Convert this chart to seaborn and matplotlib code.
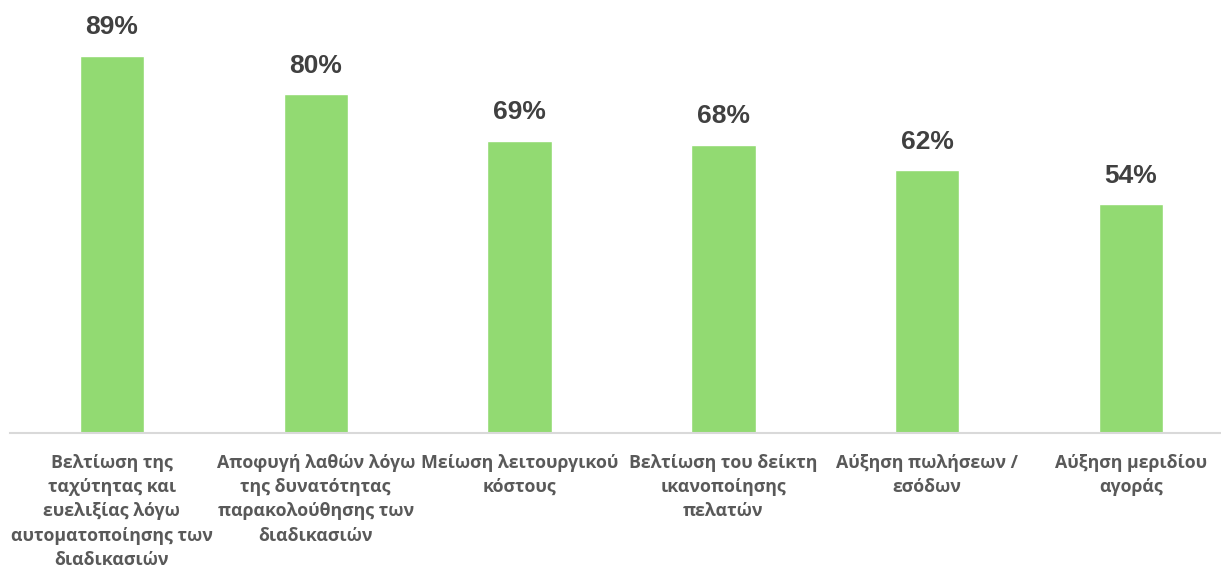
import matplotlib
matplotlib.use("Agg")
import matplotlib.pyplot as plt
import seaborn as sns
import pandas as pd

categories = [
    "Βελτίωση της\nταχύτητας και\nευελιξίας λόγω\nαυτοματοποίησης των\nδιαδικασιών",
    "Αποφυγή λαθών λόγω\nτης δυνατότητας\nπαρακολούθησης των\nδιαδικασιών",
    "Μείωση λειτουργικού\nκόστους",
    "Βελτίωση του δείκτη\nικανοποίησης\nπελατών",
    "Αύξηση πωλήσεων /\nεσόδων",
    "Αύξηση μεριδίου\nαγοράς",
]
values = [89, 80, 69, 68, 62, 54]

sns.set_theme(style="white")
plt.rcParams["font.family"] = ["Open Sans", "DejaVu Sans"]

W, H = 1221, 572
fig = plt.figure(figsize=(W / 100, H / 100), dpi=100)
base_px = 433
axes_h = 423.5
ax = fig.add_axes([10 / W, (H - base_px) / H, (1233 - 10) / W, axes_h / H])

df = pd.DataFrame({"cat": categories, "val": values})
sns.barplot(data=df, x="cat", y="val", color="#92DA72", width=0.315,
            saturation=1, ax=ax)

ax.set_xlim(-0.5, 5.5)
ax.set_ylim(0, 100)
ax.set_xlabel("")
ax.set_ylabel("")
ax.set_yticks([])

for s in ["top", "right", "left"]:
    ax.spines[s].set_visible(False)
ax.spines["bottom"].set_color("#D9D9D9")
ax.spines["bottom"].set_linewidth(1.5)

ax.tick_params(axis="x", length=0, pad=15)
for lbl in ax.get_xticklabels():
    lbl.set_fontsize(12.8)
    lbl.set_fontweight("bold")
    lbl.set_color("#595959")
    lbl.set_linespacing(1.45)

ax.bar_label(ax.containers[0], labels=[f"{v}%" for v in values],
             padding=12, fontsize=19, fontweight="bold", color="#404040",
             family=["Liberation Sans", "DejaVu Sans"])

fig.savefig("out.png", dpi=100, facecolor="white")
